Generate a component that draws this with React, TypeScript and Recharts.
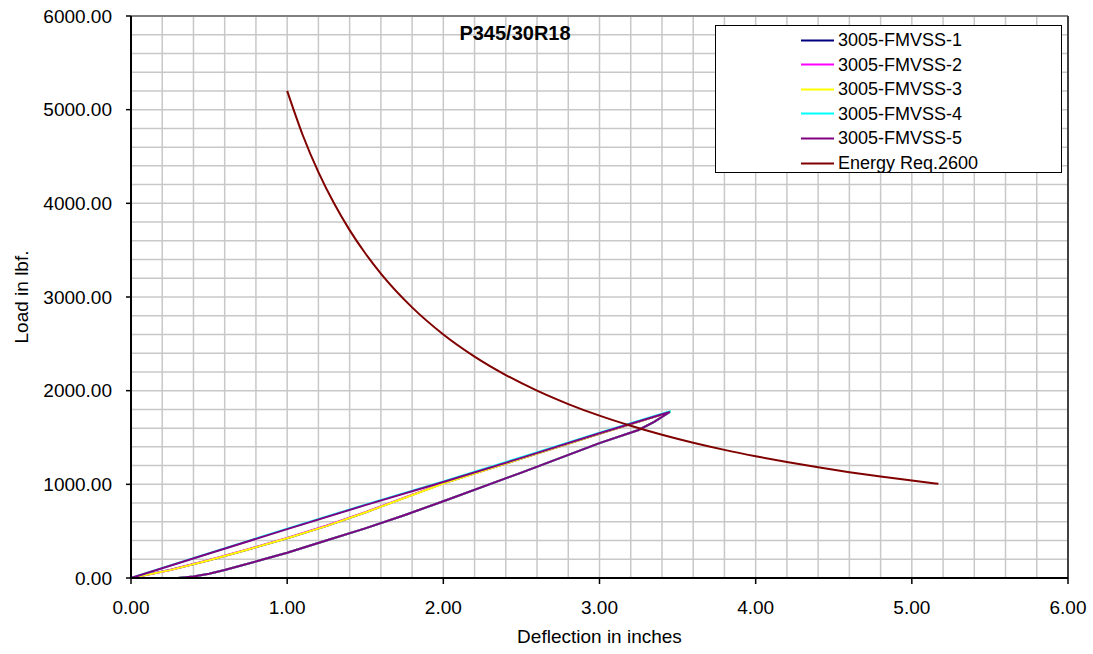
import { LineChart, Line, XAxis, YAxis, CartesianGrid, ReferenceLine } from 'recharts';

// tick values (grid every 0.2 in / 200 lbf, labels on the whole numbers only)
const xTicks = [0, 0.2, 0.4, 0.6, 0.8, 1, 1.2, 1.4, 1.6, 1.8, 2, 2.2, 2.4, 2.6, 2.8, 3, 3.2, 3.4, 3.6, 3.8, 4, 4.2, 4.4, 4.6, 4.8, 5, 5.2, 5.4, 5.6, 5.8, 6];
const yTicks = [0, 200, 400, 600, 800, 1000, 1200, 1400, 1600, 1800, 2000, 2200, 2400, 2600, 2800, 3000, 3200, 3400, 3600, 3800, 4000, 4200, 4400, 4600, 4800, 5000, 5200, 5400, 5600, 5800, 6000];

// loading curve (series 1-3)
const curveDefl = [0, 0.25, 0.5, 0.75, 1.0, 1.25, 1.5, 1.75, 2.0, 2.5, 3.0, 3.45];
const load1 = [0, 85, 190, 305, 425, 555, 700, 855, 1010, 1275, 1540, 1772];
const load2 = [0, 86, 192, 307, 428, 558, 703, 858, 1012, 1278, 1543, 1774];
const load3 = [0, 84, 189, 304, 424, 554, 699, 854, 1009, 1274, 1539, 1771];

// straight loading line (series 4-5)
const straightDefl = [0, 0.5, 1.0, 1.5, 2.0, 2.5, 3.0, 3.45];
const load4 = [0, 265, 527, 783, 1031, 1289, 1551, 1779];
const load5 = [0, 261, 522, 778, 1025, 1282, 1545, 1772];

// unloading, back to the axis
const unloadDefl = [3.45, 3.35, 3.25, 3.0, 2.5, 2.0, 1.75, 1.5, 1.25, 1.0, 0.85, 0.7, 0.6, 0.5, 0.4, 0.3, 0];
const unloadLoad = [1772, 1668, 1580, 1440, 1125, 820, 670, 530, 400, 270, 200, 130, 85, 45, 15, 0, 0];

// energy requirement curve
const energyDefl = [1.0, 1.1, 1.2, 1.3, 1.4, 1.5, 1.6, 1.8, 2.0, 2.2, 2.4, 2.6, 2.8, 3.0, 3.2, 3.4, 3.6, 3.8, 4.0, 4.2, 4.4, 4.6, 4.8, 5.0, 5.17];
const energyLoad = [5200, 4727, 4333, 4000, 3714, 3467, 3250, 2889, 2600, 2364, 2167, 2000, 1857, 1733, 1625, 1529, 1444, 1368, 1300, 1238, 1182, 1130, 1083, 1040, 1006];

const toPts = (xs: number[], ys: number[]) => xs.map((x, i) => ({ x, y: ys[i] }));
const loop = (xs: number[], ys: number[]) => [...toPts(xs, ys), ...toPts(unloadDefl, unloadLoad)];

const series = [
  { name: '3005-FMVSS-1', color: '#000080', data: loop(curveDefl, load1) },
  { name: '3005-FMVSS-2', color: '#FF00FF', data: loop(curveDefl, load2) },
  { name: '3005-FMVSS-3', color: '#FFFF00', data: loop(curveDefl, load3) },
  { name: '3005-FMVSS-4', color: '#00FFFF', data: loop(straightDefl, load4) },
  { name: '3005-FMVSS-5', color: '#800080', data: loop(straightDefl, load5) },
  { name: 'Energy Req.2600', color: '#800000', data: toPts(energyDefl, energyLoad) },
];

const FONT = '"Liberation Sans", Arial, sans-serif';

const XTick = ({ x, y, payload }: any) => {
  const v = payload.value;
  if (Math.abs(v - Math.round(v)) > 1e-6) return <g />;
  return (
    <g>
      <line x1={x} y1={y} x2={x} y2={y + 6} stroke="#000" strokeWidth={1.5} />
      <text x={x} y={y + 36} textAnchor="middle" fontFamily={FONT} fontSize={19} fill="#000">
        {v.toFixed(2)}
      </text>
    </g>
  );
};

const YTick = ({ x, y, payload }: any) => {
  const v = payload.value;
  if (v % 1000 !== 0) return <g />;
  return (
    <g>
      <line x1={x - 5} y1={y} x2={x} y2={y} stroke="#000" strokeWidth={1.5} />
      <text x={x - 19} y={y} dy="0.35em" textAnchor="end" fontFamily={FONT} fontSize={19} fill="#000">
        {v.toFixed(2)}
      </text>
    </g>
  );
};

const App = () => {
  return (
    <div style={{ position: 'absolute', left: 0, top: 0, width: 1093, height: 654, background: '#fff' }}>
      <LineChart width={1093} height={654} margin={{ top: 16, right: 25, bottom: 0, left: 0 }}>
        <CartesianGrid stroke="#c8c8c8" strokeWidth={1.5} />
        <XAxis
          dataKey="x"
          type="number"
          domain={[0, 6]}
          ticks={xTicks}
          interval={0}
          height={76}
          tickSize={0}
          tickMargin={0}
          tickLine={false}
          axisLine={{ stroke: '#000', strokeWidth: 2 }}
          tick={<XTick />}
          label={{
            content: ({ viewBox }: any) => (
              <text x={viewBox.x + viewBox.width / 2} y={viewBox.y + 65} textAnchor="middle" fontFamily={FONT} fontSize={19} fill="#000">
                Deflection in inches
              </text>
            ),
          }}
        />
        <YAxis
          dataKey="y"
          type="number"
          domain={[0, 6000]}
          ticks={yTicks}
          interval={0}
          width={131}
          tickSize={0}
          tickMargin={0}
          tickLine={false}
          axisLine={{ stroke: '#000', strokeWidth: 2 }}
          tick={<YTick />}
          label={{
            content: ({ viewBox }: any) => {
              const cx = viewBox.x + 21;
              const cy = viewBox.y + viewBox.height / 2;
              return (
                <text x={cx} y={cy} dy="0.35em" transform={`rotate(-90, ${cx}, ${cy})`} textAnchor="middle" fontFamily={FONT} fontSize={19} fill="#000">
                  Load in lbf.
                </text>
              );
            },
          }}
        />
        <ReferenceLine y={6000} stroke="#808080" strokeWidth={2} />
        <ReferenceLine x={6} stroke="#404040" strokeWidth={2} />
        {series.map((s) => (
          <Line
            key={s.name}
            data={s.data}
            dataKey="y"
            name={s.name}
            type={s.name.startsWith('Energy') ? 'monotone' : 'linear'}
            stroke={s.color}
            strokeWidth={2}
            dot={false}
            activeDot={false}
            isAnimationActive={false}
          />
        ))}
      </LineChart>

      <div
        style={{
          position: 'absolute', left: 515, top: 33, transform: 'translate(-50%, -50%)',
          fontFamily: FONT, fontSize: 20, fontWeight: 'bold', color: '#000', whiteSpace: 'nowrap',
        }}
      >
        P345/30R18
      </div>

      <div
        style={{
          position: 'absolute', left: 715, top: 25, width: 347, height: 148, boxSizing: 'border-box',
          border: '1.5px solid #000', background: '#fff', fontFamily: FONT, fontSize: 18, color: '#000',
        }}
      >
        {series.map((s, i) => (
          <div key={s.name} style={{ position: 'absolute', left: 85, top: 14 + i * 24.6, transform: 'translateY(-50%)', display: 'flex', alignItems: 'center', whiteSpace: 'nowrap' }}>
            <div style={{ width: 33, height: 2, background: s.color, marginRight: 4 }} />
            <span>{s.name}</span>
          </div>
        ))}
      </div>
    </div>
  );
};

export default App;
